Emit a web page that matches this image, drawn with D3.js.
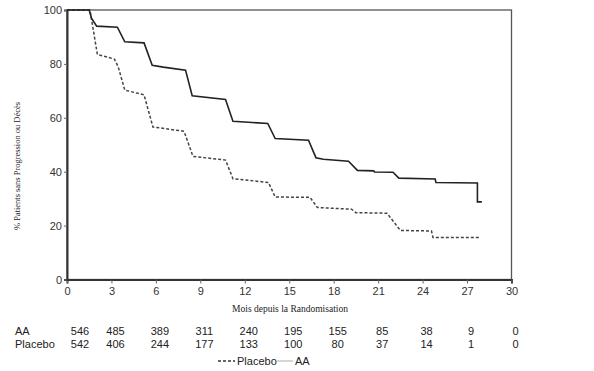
<!DOCTYPE html>
<html>
<head>
<meta charset="utf-8">
<script src="https://cdn.jsdelivr.net/npm/d3@7"></script>
<style>
  body { margin: 0; background: #fff; }
  svg { display: block; }
</style>
</head>
<body>
<svg id="chart" width="594" height="371"></svg>
<script>
// months / survival %
var aaMonths = [0, 1.5, 1.65, 2.0, 3.4, 3.9, 5.2, 5.75, 6.5, 8.0, 8.45, 10.7, 11.2, 13.55, 14.05, 16.3, 16.8, 17.3, 19.0, 19.6, 20.7, 20.75, 22.0, 22.4, 24.85, 24.9, 27.7, 27.7, 28.0];
var aaValues = [100, 100, 97, 94, 93.6, 88.2, 87.8, 79.5, 78.8, 77.7, 68.2, 66.8, 58.7, 57.9, 52.3, 51.7, 45.2, 44.6, 43.9, 40.5, 40.3, 39.9, 39.8, 37.6, 37.3, 36.0, 35.8, 28.8, 28.8];

var placeboMonths = [0, 1.55, 2.05, 3.2, 3.45, 3.9, 5.2, 5.8, 7.9, 8.5, 10.7, 11.2, 13.6, 14.05, 16.4, 16.9, 19.2, 19.5, 21.6, 22.5, 24.6, 24.7, 27.8];
var placeboValues = [100, 100, 83.5, 81.8, 79, 70.3, 68.5, 56.6, 55, 45.7, 44.3, 37.4, 36, 30.6, 30.5, 26.7, 26.1, 24.8, 24.6, 18.2, 18, 15.6, 15.6];

var xTicks = [0, 3, 6, 9, 12, 15, 18, 21, 24, 27, 30];
var yTicks = [0, 20, 40, 60, 80, 100];
var atRiskAA = [546, 485, 389, 311, 240, 195, 155, 85, 38, 9, 0];
var atRiskPlacebo = [542, 406, 244, 177, 133, 100, 80, 37, 14, 1, 0];

var svg = d3.select("#chart");
var sans = "'Liberation Sans', Arial, sans-serif";
var serif = "'Liberation Serif', 'Times New Roman', serif";

var x = d3.scaleLinear().domain([0, 30]).range([67, 511.5]);
var y = d3.scaleLinear().domain([0, 100]).range([279.5, 10]);

// frame
svg.append("rect")
    .attr("x", x(0)).attr("y", y(100))
    .attr("width", x(30) - x(0)).attr("height", y(0) - y(100))
    .attr("fill", "none")
    .attr("stroke", "#555")
    .attr("stroke-width", 1.3);

var xAxis = svg.append("g")
    .attr("transform", "translate(0," + y(0) + ")")
    .call(d3.axisBottom(x).tickValues(xTicks).tickSize(4).tickPadding(4).tickFormat(d3.format("d")));
var yAxis = svg.append("g")
    .attr("transform", "translate(" + x(0) + ",0)")
    .call(d3.axisLeft(y).tickValues(yTicks).tickSize(3).tickPadding(2));

[xAxis, yAxis].forEach(function(g) {
    g.select(".domain").attr("stroke", "#333").attr("stroke-width", 2);
    g.selectAll(".tick line").attr("stroke", "#666");
    g.selectAll(".tick text")
        .attr("font-family", sans)
        .attr("font-size", 11)
        .attr("fill", "#333");
});

// curves
var line = d3.line()
    .x(function(d) { return x(d[0]); })
    .y(function(d) { return y(d[1]); });

svg.append("path")
    .datum(d3.zip(placeboMonths, placeboValues))
    .attr("d", line)
    .attr("fill", "none")
    .attr("stroke", "#444")
    .attr("stroke-width", 1.5)
    .attr("stroke-dasharray", "3,2");

svg.append("path")
    .datum(d3.zip(aaMonths, aaValues))
    .attr("d", line)
    .attr("fill", "none")
    .attr("stroke", "#222")
    .attr("stroke-width", 1.6);

// axis titles
svg.append("text")
    .attr("x", 290).attr("y", 312)
    .attr("text-anchor", "middle")
    .attr("font-family", serif)
    .attr("font-size", 9.5)
    .attr("fill", "#222")
    .text("Mois depuis la Randomisation");

svg.append("text")
    .attr("transform", "translate(20,166) rotate(-90)")
    .attr("text-anchor", "middle")
    .attr("font-family", serif)
    .attr("font-size", 8.5)
    .attr("textLength", 128)
    .attr("lengthAdjust", "spacingAndGlyphs")
    .attr("fill", "#222")
    .text("% Patients sans Progression ou Décès");

// number at risk
var rows = [{label: "AA", values: atRiskAA, y: 335}, {label: "Placebo", values: atRiskPlacebo, y: 348}];
rows.forEach(function(r) {
    svg.append("text")
        .attr("x", 15).attr("y", r.y)
        .attr("font-family", sans)
        .attr("font-size", 11)
        .attr("fill", "#222")
        .text(r.label);
    svg.selectAll(null)
        .data(r.values)
        .enter()
        .append("text")
        .attr("x", function(d, i) { return x(xTicks[i]) + (i === 0 ? 13 : 4); })
        .attr("y", r.y)
        .attr("text-anchor", "middle")
        .attr("font-family", sans)
        .attr("font-size", 11)
        .attr("fill", "#222")
        .text(function(d) { return d; });
});

// legend
var legend = svg.append("g").attr("transform", "translate(0,365)");
legend.append("line")
    .attr("x1", 218).attr("x2", 235).attr("y1", -4).attr("y2", -4)
    .attr("stroke", "#333").attr("stroke-width", 1.5).attr("stroke-dasharray", "3,2");
legend.append("text")
    .attr("x", 237).attr("y", 0)
    .attr("font-family", sans).attr("font-size", 11).attr("fill", "#222")
    .text("Placebo");
legend.append("line")
    .attr("x1", 277).attr("x2", 293).attr("y1", -4).attr("y2", -4)
    .attr("stroke", "#bbb").attr("stroke-width", 1.2);
legend.append("text")
    .attr("x", 295).attr("y", 0)
    .attr("font-family", sans).attr("font-size", 11).attr("fill", "#222")
    .text("AA");
</script>
</body>
</html>
